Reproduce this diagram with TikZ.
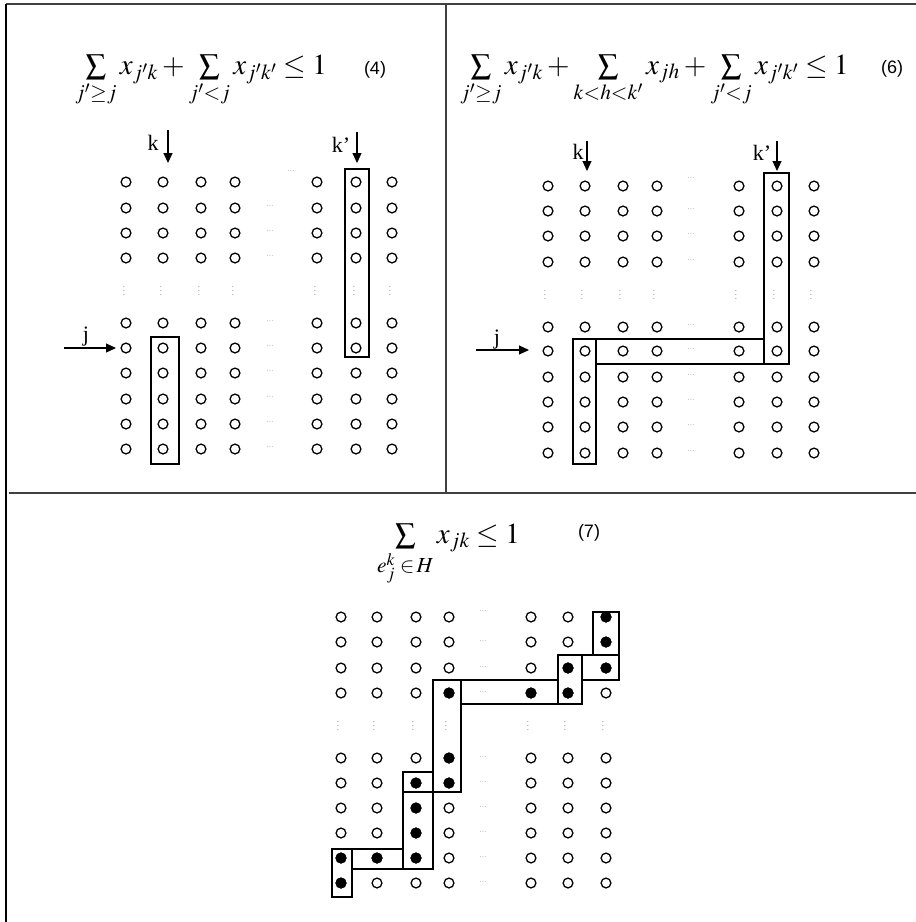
\documentclass[tikz,border=0pt]{standalone}
\usepackage{mathptmx}
\usepackage{fontspec}
\setmainfont{Liberation Serif}
\newfontfamily\numfont{Liberation Sans}
\usetikzlibrary{arrows.meta}

\tikzset{
    odot/.style={circle,draw,line width=1.3pt,inner sep=0pt,minimum size=9.8pt},
    fdot/.style={circle,fill,inner sep=0pt,minimum size=11pt},
    selbox/.style={line width=1.1pt},
    frame/.style={line width=1.6pt,black!75},
    arr/.style={line width=1.1pt,-{Triangle[length=10pt,width=9pt]}},
    lbl/.style={font=\fontsize{22}{26}\selectfont,inner sep=0pt},
    eqn/.style={font=\fontsize{29}{34}\selectfont,inner sep=0pt,anchor=base west},
    eqno/.style={font=\numfont\fontsize{18}{21}\selectfont,inner sep=0pt},
    hd/.style={font=\scriptsize,inner sep=0pt,black!80}
}

\begin{document}
\begin{tikzpicture}[x=1pt,y=-1pt]
\useasboundingbox (0,0) rectangle (916,922);

% Frame
\draw[frame] (6,4) -- (916,4);
\draw[line width=1.8pt] (6,4) -- (6,922);
\draw[frame] (446,4) -- (446,493);
\draw[frame] (9,493) -- (916,493);

% ---------- panel (4) ----------
\node[eqn] (eqA) at (75,74) {$\sum\limits_{j'\ge j} x_{j'k} + \sum\limits_{j'<j} x_{j'k'} \le 1$};
\node[eqno] (noA) at (375,70) {(4)};

\foreach \x [count=\c] in {126,163,201,235,317,356,392}
    \foreach \y [count=\r] in {182,208,233,258,323,348,373,399,424,449}
        \node[odot] (L-\r-\c) at (\x,\y) {};
\node[hd] (Lh-1) at (291,171) {$\cdots$};
\foreach \y [count=\r from 2] in {208,233,258,323,348,373,399,424,449}
    \node[hd] (Lh-\r) at (270,\y-2) {$\cdots$};
\foreach \x [count=\c] in {124,161,199,233,315,354,390}
    \node[hd] (Lv-\c) at (\x,288) {$\vdots$};

\draw[selbox] (151,337) rectangle (179,464);
\draw[selbox] (345,169) rectangle (369,357);

\node[lbl] (kA) at (153,143) {k};
\coordinate (kA-s) at (168,130);
\coordinate (kA-e) at (168,163);
\draw[arr] (kA-s) -- (kA-e);
\node[lbl] (kpA) at (341,145) {k’};
\coordinate (kpA-s) at (357,132);
\coordinate (kpA-e) at (357,163);
\draw[arr] (kpA-s) -- (kpA-e);
\node[lbl] (jA) at (86,337) {j};
\coordinate (jA-s) at (64,348);
\coordinate (jA-e) at (116,348);
\draw[arr] (jA-s) -- (jA-e);

% ---------- panel (6) ----------
\node[eqn] (eqB) at (460,74) {$\sum\limits_{j'\ge j} x_{j'k} + \sum\limits_{k<h<k'} x_{jh} + \sum\limits_{j'<j} x_{j'k'} \le 1$};
\node[eqno] (noB) at (892,69) {(6)};

\foreach \x [count=\c] in {548,585,623,657,739,777,814}
    \foreach \y [count=\r] in {186,211,236,262,327,351,377,402,427,453}
        \node[odot] (R-\r-\c) at (\x,\y) {};
\node[hd] (Rh-1) at (691,178) {$\cdots$};
\foreach \y [count=\r from 2] in {211,236,262,327,351,377,402,427,453}
    \node[hd] (Rh-\r) at (691,\y-2) {$\cdots$};
\foreach \x [count=\c] in {545,582,620,654,736,774,811}
    \node[hd] (Rv-\c) at (\x,292) {$\vdots$};

\draw[selbox] (573,339) rectangle (596,464);
\draw[selbox] (596,339) rectangle (764,364);
\draw[selbox] (764,173) rectangle (789,364);

\node[lbl] (kB) at (578,152) {k};
\coordinate (kB-s) at (587,141);
\coordinate (kB-e) at (587,171);
\draw[arr] (kB-s) -- (kB-e);
\node[lbl] (kpB) at (762,153) {k’};
\coordinate (kpB-s) at (777,141);
\coordinate (kpB-e) at (777,171);
\draw[arr] (kpB-s) -- (kpB-e);
\node[lbl] (jB) at (497,340) {j};
\coordinate (jB-s) at (476,350);
\coordinate (jB-e) at (529,350);
\draw[arr] (jB-s) -- (jB-e);

% ---------- panel (7) ----------
\node[eqn] (eqC) at (377,543) {$\sum\limits_{e_j^k\;\in\, H} x_{jk} \le 1$};
\node[eqno] (noC) at (589,533) {(7)};

\foreach \x [count=\c] in {341,377,416,449,531,568,606}
    \foreach \y [count=\r] in {617,642,668,693,758,783,808,833,858,883}
        \node[odot] (B-\r-\c) at (\x,\y) {};
\foreach \r/\c in {1/7,2/7,3/6,3/7,4/4,4/5,4/6,5/4,6/3,6/4,7/3,8/3,9/1,9/2,9/3,10/1}
    \node[fdot] (F-\r-\c) at (B-\r-\c) {};
\node[hd] (Bh-1) at (483,611) {$\cdots$};
\foreach \y [count=\r from 2] in {642,668,693,758,783,808,833,858,883}
    \node[hd] (Bh-\r) at (483,\y-1) {$\cdots$};
\foreach \x [count=\c] in {338,374,413,446,528,565,603}
    \node[hd] (Bv-\c) at (\x,723) {$\vdots$};

\draw[selbox] (593,612) rectangle (619,655);
\draw[selbox] (558,655) rectangle (582,704);
\draw[selbox] (582,655) rectangle (619,680);
\draw[selbox] (461,680) rectangle (558,704);
\draw[selbox] (433,680) rectangle (461,792);
\draw[selbox] (403,772) rectangle (433,792);
\draw[selbox] (403,792) rectangle (433,869);
\draw[selbox] (352,849) rectangle (403,869);
\draw[selbox] (332,849) rectangle (352,897);

\end{tikzpicture}
\end{document}
